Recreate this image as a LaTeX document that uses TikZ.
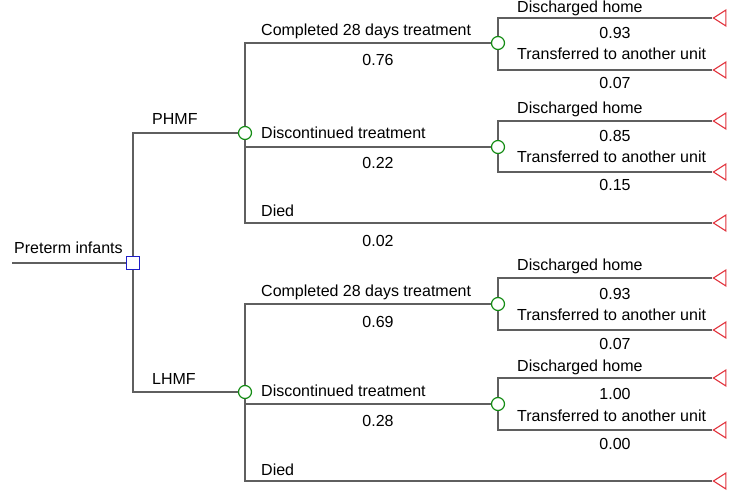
\documentclass[tikz,border=0pt]{standalone}
\usepackage{fontspec}
\setmainfont{Liberation Sans}
\usetikzlibrary{shapes.geometric, positioning}
\definecolor{treegray}{RGB}{95,95,95}
\definecolor{decblue}{RGB}{30,30,200}
\definecolor{chancegreen}{RGB}{20,140,20}
\definecolor{termred}{RGB}{225,50,60}
\tikzset{
    decision/.style={rectangle, draw=decblue, fill=white, line width=1.2pt, minimum size=13pt, inner sep=0pt},
    chance/.style={circle, draw=chancegreen, fill=white, line width=1.2pt, minimum size=13pt, inner sep=0pt},
    terminal/.style={isosceles triangle, shape border rotate=180, isosceles triangle stretches, draw=termred, line width=1.1pt, minimum width=16pt, minimum height=12.5pt, inner sep=0pt, anchor=apex},
    branch/.style={draw=treegray, line width=1.5pt},
    lbl/.style={anchor=base west, inner sep=0pt, font=\fontsize{16}{19}\selectfont},
    prob/.style={anchor=base, inner sep=0pt, font=\fontsize{16}{19}\selectfont}
}

\begin{document}
\begin{tikzpicture}[x=1pt, y=-1pt]
    \useasboundingbox (0,0) rectangle (732,492);

    % decision and chance nodes
    \node (root) [decision] at (133,263) {};
    \node (phmf) [chance] at (245,133) {};
    \node (lhmf) [chance] at (245,392) {};
    \node (pcomp) [chance] at (498,43) {};
    \node (pdisc) [chance] at (498,147) {};
    \node (lcomp) [chance] at (498,304) {};
    \node (ldisc) [chance] at (498,404) {};

    % terminal nodes
    \node (pcomphome) [terminal] at (712,18) {};
    \node (pcomptrans) [terminal] at (712,70) {};
    \node (pdischome) [terminal] at (712,121) {};
    \node (pdisctrans) [terminal] at (712,172) {};
    \node (pdied) [terminal] at (712,223) {};
    \node (lcomphome) [terminal] at (712,278) {};
    \node (lcomptrans) [terminal] at (712,330) {};
    \node (ldischome) [terminal] at (712,378) {};
    \node (ldisctrans) [terminal] at (712,430) {};
    \node (ldied) [terminal] at (712,481) {};

    \coordinate (start) at (12,263);

    % branches
    \draw [branch] (start) -- (root.west);
    \draw [branch] (root.north) |- (phmf.west);
    \draw [branch] (root.south) |- (lhmf.west);

    \draw [branch] (phmf.north) |- (pcomp.west);
    \draw [branch] (phmf.south |- pdisc) -- (pdisc.west);
    \draw [branch] (phmf.south) |- (pdied.apex);
    \draw [branch] (pcomp.north) |- (pcomphome.apex);
    \draw [branch] (pcomp.south) |- (pcomptrans.apex);
    \draw [branch] (pdisc.north) |- (pdischome.apex);
    \draw [branch] (pdisc.south) |- (pdisctrans.apex);

    \draw [branch] (lhmf.north) |- (lcomp.west);
    \draw [branch] (lhmf.south |- ldisc) -- (ldisc.west);
    \draw [branch] (lhmf.south) |- (ldied.apex);
    \draw [branch] (lcomp.north) |- (lcomphome.apex);
    \draw [branch] (lcomp.south) |- (lcomptrans.apex);
    \draw [branch] (ldisc.north) |- (ldischome.apex);
    \draw [branch] (ldisc.south) |- (ldisctrans.apex);

    % labels
    \node (rootlbl) [lbl] at (14,254) {Preterm infants};
    \node (phmflbl) [lbl] at (152,125) {PHMF};
    \node (lhmflbl) [lbl] at (152,384) {LHMF};

    \node (pcomplbl) [lbl] at (261,36) {Completed 28 days treatment};
    \node (pcompp) [prob] at (378,66) {0.76};
    \node (pdisclbl) [lbl] at (261,139) {Discontinued treatment};
    \node (pdiscp) [prob] at (378,169) {0.22};
    \node (pdiedlbl) [lbl] at (261,217) {Died};
    \node (pdiedp) [prob] at (378,247) {0.02};

    \node (lcomplbl) [lbl] at (261,297) {Completed 28 days treatment};
    \node (lcompp) [prob] at (378,327) {0.69};
    \node (ldisclbl) [lbl] at (261,396) {Discontinued treatment};
    \node (ldiscp) [prob] at (378,426) {0.28};
    \node (ldiedlbl) [lbl] at (261,475) {Died};

    \node (pch) [lbl] at (517,12.5) {Discharged home};
    \node (pchp) [prob] at (615,39) {0.93};
    \node (pct) [lbl] at (517,60) {Transferred to another unit};
    \node (pctp) [prob] at (615,89) {0.07};
    \node (pdh) [lbl] at (517,114) {Discharged home};
    \node (pdhp) [prob] at (615,142) {0.85};
    \node (pdt) [lbl] at (517,163) {Transferred to another unit};
    \node (pdtp) [prob] at (615,191) {0.15};

    \node (lch) [lbl] at (517,271) {Discharged home};
    \node (lchp) [prob] at (615,299) {0.93};
    \node (lct) [lbl] at (517,320) {Transferred to another unit};
    \node (lctp) [prob] at (615,349) {0.07};
    \node (ldh) [lbl] at (517,371) {Discharged home};
    \node (ldhp) [prob] at (615,399) {1.00};
    \node (ldt) [lbl] at (517,421) {Transferred to another unit};
    \node (ldtp) [prob] at (615,449) {0.00};
\end{tikzpicture}
\end{document}
